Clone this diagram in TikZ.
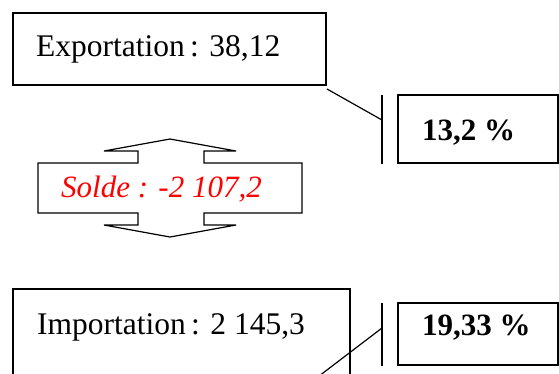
\documentclass[tikz,border=0pt]{standalone}
\usepackage{fontspec}
\setmainfont{Liberation Serif}
\begin{document}
\begin{tikzpicture}[x=1pt,y=-1pt,
  box/.style={draw,line width=1.2pt},
  link/.style={draw,line width=1.2pt},
  txt/.style={anchor=base west,inner sep=0pt,font=\fontsize{31.5}{36}\selectfont},
  pct/.style={anchor=base west,inner sep=0pt,font=\fontsize{31}{36}\selectfont\bfseries}]
\clip (0,0) rectangle (559,373);
% boxes
\draw[box] (13,13) rectangle (326,85);
\draw[box] (398,95) rectangle (558,163);
\draw[box] (13,289) rectangle (350,400);
\draw[box] (398,303) rectangle (558,365);
% double arrow with Solde box
\draw[box,line join=miter] (38,163) -- (138,163) -- (138,151) -- (104,151) -- (170,139)
  -- (236,151) -- (204,151) -- (204,163) -- (302,163) -- (302,213) -- (204,213)
  -- (204,225) -- (236,225) -- (170,237) -- (104,225) -- (138,225) -- (138,213)
  -- (38,213) -- cycle;
% texts
\node[txt] (exp) at (36,56) {Exportation\,: 38,12};
\node[pct] (p1) at (422,140) {13,2 \%};
\node[txt,text=red,font=\fontsize{31}{36}\selectfont\itshape] (solde) at (61,197) {Solde : -2 107,2};
\node[txt] (imp) at (37,334) {Importation\,: 2 145,3};
\node[pct] (p2) at (422,335) {19,33 \%};
% bars and connectors
\coordinate (b1t) at (382,95);
\coordinate (b1b) at (382,164);
\coordinate (b1m) at (382,120);
\coordinate (e1) at (327,89);
\draw[link] (b1t) -- (b1b);
\draw[link] (e1) -- (b1m);
\coordinate (b2t) at (382,303);
\coordinate (b2b) at (382,366);
\coordinate (b2m) at (382,328);
\coordinate (e2) at (287.6,400);
\draw[link] (b2t) -- (b2b);
\draw[link] (b2m) -- (e2);
\end{tikzpicture}
\end{document}
